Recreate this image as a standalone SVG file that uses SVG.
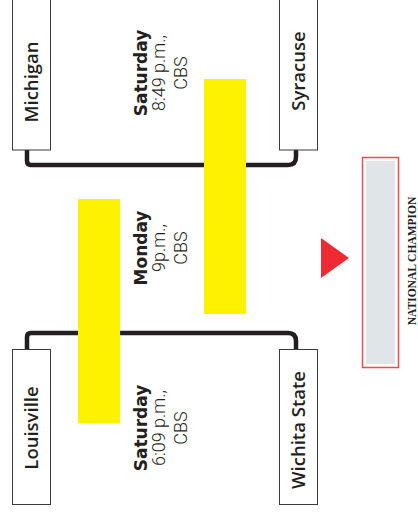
<svg xmlns="http://www.w3.org/2000/svg" width="418" height="513" viewBox="0 0 418 513">
<style>
.team{fill:#fff;stroke:#3a3a3a;stroke-width:1}
.tname{font-family:"Open Sans","Liberation Sans",sans-serif;font-weight:600;font-size:18.5px;fill:#231f20;text-anchor:middle}
.day{font-family:"DejaVu Sans","Liberation Sans",sans-serif;font-weight:bold;font-size:17px;fill:#231f20;text-anchor:middle}
.info{font-family:Roboto,"Liberation Sans",sans-serif;font-weight:300;font-size:18px;fill:#231f20;text-anchor:middle}
.conn{fill:none;stroke:#231f20;stroke-width:4.5}
.bar{fill:#fff200}
.champ{font-family:"Liberation Serif",serif;font-weight:bold;font-size:11.5px;fill:#231f20;text-anchor:middle}
</style>
<rect width="418" height="513" fill="#fff"/>
<g id="connectors">
<path class="conn" d="M27 150 V161 Q27 165 31 165 H288 Q296 165 296 157 V150"/>
<path class="conn" d="M27 349 V337 Q27 333 31 333 H288 Q296 333 296 341 V349"/>
</g>
<g id="bars">
<rect class="bar" x="204" y="79" width="42" height="235"/>
<rect class="bar" x="78" y="199" width="42" height="224"/>
</g>
<g id="michigan">
<rect class="team" x="12.5" y="-1" width="38" height="151"/>
<text class="tname" transform="translate(38,82) rotate(-90)">Michigan</text>
</g>
<g id="syracuse">
<rect class="team" x="279.5" y="-1" width="38" height="151"/>
<text class="tname" transform="translate(305,71) rotate(-90)">Syracuse</text>
</g>
<g id="louisville">
<rect class="team" x="12.5" y="349.5" width="38" height="155"/>
<text class="tname" transform="translate(38,428) rotate(-90)">Louisville</text>
</g>
<g id="wichita-state">
<rect class="team" x="279.5" y="349.5" width="38" height="155"/>
<text class="tname" transform="translate(305,430) rotate(-90)">Wichita State</text>
</g>
<g id="game-top" transform="translate(0,73) rotate(-90)">
<text class="day" x="0" y="147">Saturday</text>
<text class="info" x="0" y="165">8:49 p.m.,</text>
<text class="info" x="0" y="187">CBS</text>
</g>
<g id="game-final" transform="translate(0,248) rotate(-90)">
<text class="day" x="0" y="147">Monday</text>
<text class="info" x="0" y="165">9p.m.,</text>
<text class="info" x="0" y="187">CBS</text>
</g>
<g id="game-bottom" transform="translate(0,428) rotate(-90)">
<text class="day" x="0" y="147">Saturday</text>
<text class="info" x="0" y="165">6:09 p.m.,</text>
<text class="info" x="0" y="187">CBS</text>
</g>
<g id="arrow">
<polygon points="321,238 349,258 321,278" fill="#ee2a33"/>
</g>
<g id="champion">
<rect x="362.5" y="157.5" width="36" height="210" fill="#fff" stroke="#ee4b52" stroke-width="1.5"/>
<rect x="366" y="161" width="29" height="203" fill="#e1e5e8"/>
<text class="champ" transform="translate(416,261) rotate(-90)">NATIONAL CHAMPION</text>
</g>
</svg>
